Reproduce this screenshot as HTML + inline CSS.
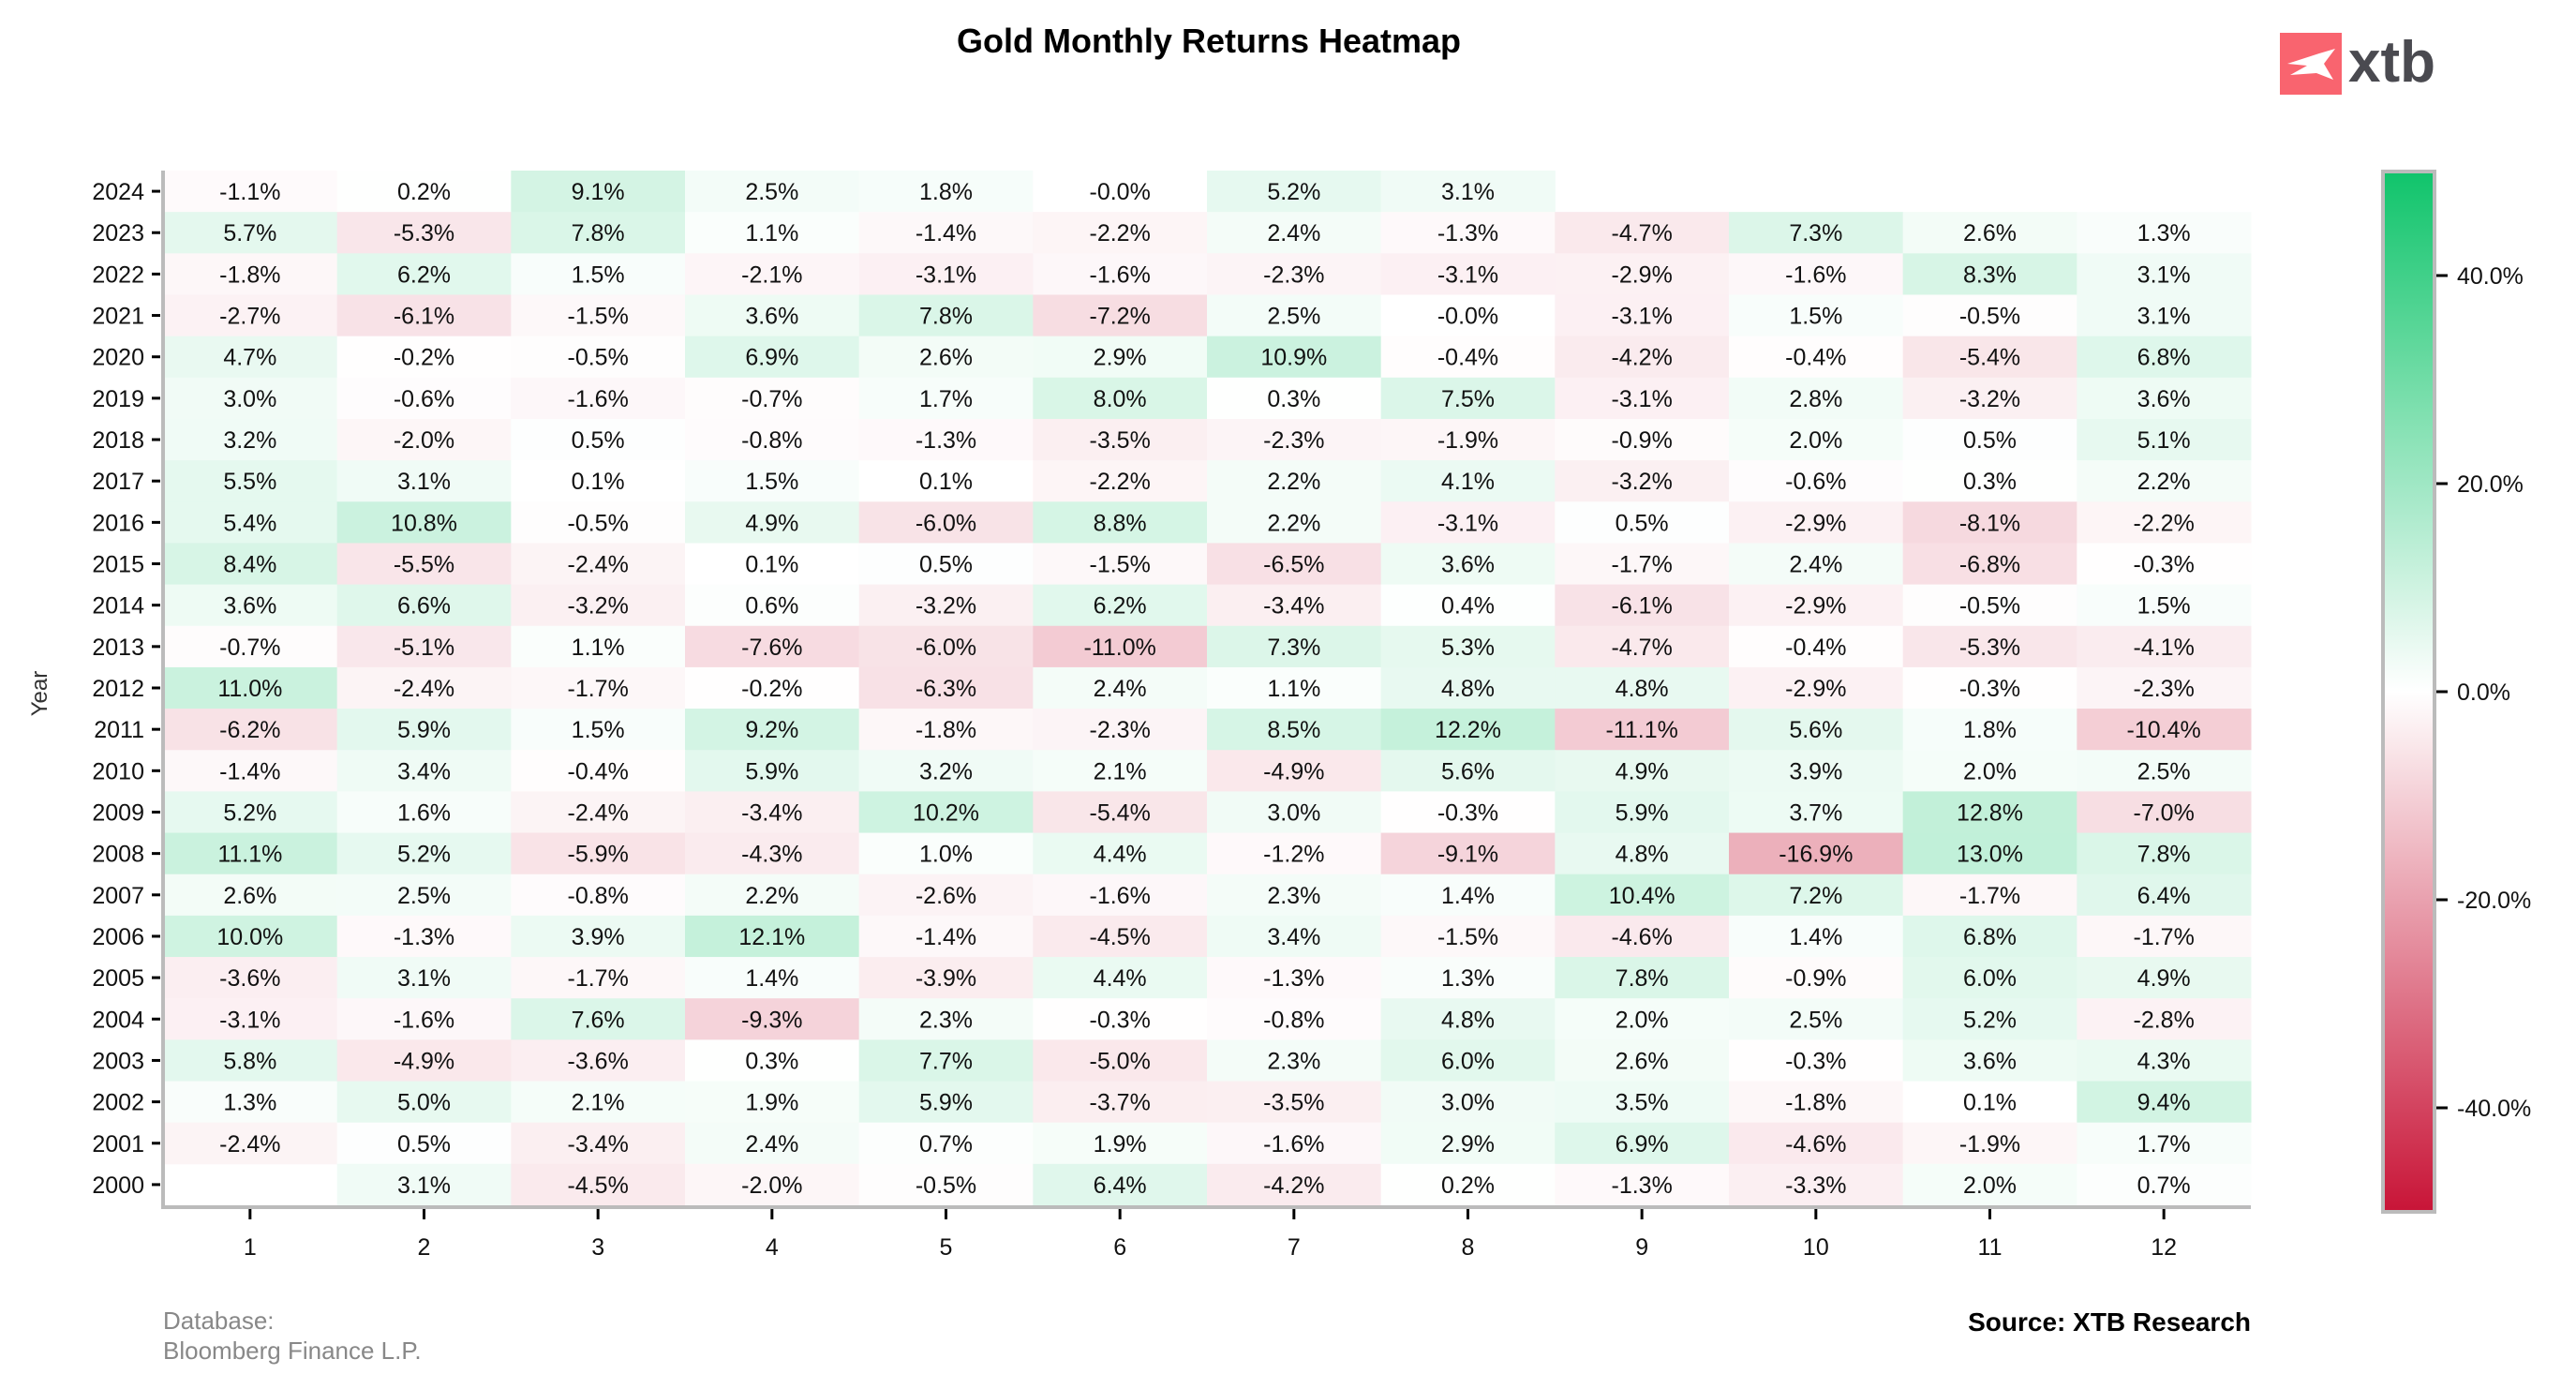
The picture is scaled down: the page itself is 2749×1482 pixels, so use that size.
<!DOCTYPE html>
<html><head><meta charset="utf-8"><style>
html,body{margin:0;padding:0;background:#fff;}
svg{display:block;font-family:"Liberation Sans",sans-serif;}
</style></head><body>
<svg id="chart" width="2749" height="1482" viewBox="0 0 2749 1482" xmlns="http://www.w3.org/2000/svg">
<text x="1290" y="56" text-anchor="middle" font-size="36" font-weight="bold" fill="#000">Gold Monthly Returns Heatmap</text>
<g>
<rect x="2433" y="35" width="66" height="66" fill="#f9646f"/>
<path d="M2441 68 L2475 57 L2492 52 L2480 68 L2490 85 L2472 78 L2444 80 L2462 70 Z" fill="#fff"/>
<text x="2506" y="87" font-size="62" font-weight="bold" fill="#4a4a50">xtb</text>
</g>
<g id="cells"></g>
<g id="axes"></g>
<g id="cbar"></g>
<text transform="translate(50,740) rotate(-90)" text-anchor="middle" font-size="24" fill="#333">Year</text>
<text x="174" y="1418" font-size="26" fill="#888">Database:</text>
<text x="174" y="1450" font-size="26" fill="#888">Bloomberg Finance L.P.</text>
<text x="2402" y="1420" text-anchor="end" font-size="28" font-weight="bold" fill="#000">Source: XTB Research</text>
</svg>
<script>
const years=[2024,2023,2022,2021,2020,2019,2018,2017,2016,2015,2014,2013,2012,2011,2010,2009,2008,2007,2006,2005,2004,2003,2002,2001,2000];
const months=[1,2,3,4,5,6,7,8,9,10,11,12];
const returns=[
[-1.1,0.2,9.1,2.5,1.8,-0.0,5.2,3.1,null,null,null,null],
[5.7,-5.3,7.8,1.1,-1.4,-2.2,2.4,-1.3,-4.7,7.3,2.6,1.3],
[-1.8,6.2,1.5,-2.1,-3.1,-1.6,-2.3,-3.1,-2.9,-1.6,8.3,3.1],
[-2.7,-6.1,-1.5,3.6,7.8,-7.2,2.5,-0.0,-3.1,1.5,-0.5,3.1],
[4.7,-0.2,-0.5,6.9,2.6,2.9,10.9,-0.4,-4.2,-0.4,-5.4,6.8],
[3.0,-0.6,-1.6,-0.7,1.7,8.0,0.3,7.5,-3.1,2.8,-3.2,3.6],
[3.2,-2.0,0.5,-0.8,-1.3,-3.5,-2.3,-1.9,-0.9,2.0,0.5,5.1],
[5.5,3.1,0.1,1.5,0.1,-2.2,2.2,4.1,-3.2,-0.6,0.3,2.2],
[5.4,10.8,-0.5,4.9,-6.0,8.8,2.2,-3.1,0.5,-2.9,-8.1,-2.2],
[8.4,-5.5,-2.4,0.1,0.5,-1.5,-6.5,3.6,-1.7,2.4,-6.8,-0.3],
[3.6,6.6,-3.2,0.6,-3.2,6.2,-3.4,0.4,-6.1,-2.9,-0.5,1.5],
[-0.7,-5.1,1.1,-7.6,-6.0,-11.0,7.3,5.3,-4.7,-0.4,-5.3,-4.1],
[11.0,-2.4,-1.7,-0.2,-6.3,2.4,1.1,4.8,4.8,-2.9,-0.3,-2.3],
[-6.2,5.9,1.5,9.2,-1.8,-2.3,8.5,12.2,-11.1,5.6,1.8,-10.4],
[-1.4,3.4,-0.4,5.9,3.2,2.1,-4.9,5.6,4.9,3.9,2.0,2.5],
[5.2,1.6,-2.4,-3.4,10.2,-5.4,3.0,-0.3,5.9,3.7,12.8,-7.0],
[11.1,5.2,-5.9,-4.3,1.0,4.4,-1.2,-9.1,4.8,-16.9,13.0,7.8],
[2.6,2.5,-0.8,2.2,-2.6,-1.6,2.3,1.4,10.4,7.2,-1.7,6.4],
[10.0,-1.3,3.9,12.1,-1.4,-4.5,3.4,-1.5,-4.6,1.4,6.8,-1.7],
[-3.6,3.1,-1.7,1.4,-3.9,4.4,-1.3,1.3,7.8,-0.9,6.0,4.9],
[-3.1,-1.6,7.6,-9.3,2.3,-0.3,-0.8,4.8,2.0,2.5,5.2,-2.8],
[5.8,-4.9,-3.6,0.3,7.7,-5.0,2.3,6.0,2.6,-0.3,3.6,4.3],
[1.3,5.0,2.1,1.9,5.9,-3.7,-3.5,3.0,3.5,-1.8,0.1,9.4],
[-2.4,0.5,-3.4,2.4,0.7,1.9,-1.6,2.9,6.9,-4.6,-1.9,1.7],
[null,3.1,-4.5,-2.0,-0.5,6.4,-4.2,0.2,-1.3,-3.3,2.0,0.7]
];
const cbarTicks=[40,20,0,-20,-40];
const NS="http://www.w3.org/2000/svg";
const L=174,R=2402,T=182,B=1286;
const cw=(R-L)/months.length, ch=(B-T)/years.length;
const xPos=i=>L+i*cw, yPos=i=>T+i*ch;
const VMIN=-50,VMAX=50,CT=183,CB=1293;
const cy=v=>CT+(VMAX-v)/(VMAX-VMIN)*(CB-CT);
function color(v){
  const g=[16,196,107], r=[200,20,55];
  const t=Math.min(1,Math.abs(v)/50), c=v>=0?g:r;
  return `rgb(${[0,1,2].map(k=>Math.round(255+(c[k]-255)*t)).join(',')})`;
}
function mk(tag,attrs,parent){const e=document.createElementNS(NS,tag);for(const k in attrs)e.setAttribute(k,attrs[k]);parent.appendChild(e);return e;}
const cells=document.getElementById('cells');
years.forEach((y,ri)=>{
  months.forEach((m,ci)=>{
    const v=returns[ri][ci];
    if(v===null)return;
    const r=mk('rect',{x:xPos(ci),y:yPos(ri),width:cw+0.5,height:ch+0.5,fill:color(v)},cells);
    
    
    const t=mk('text',{x:xPos(ci)+cw/2,y:yPos(ri)+ch/2+9,'text-anchor':'middle','font-size':25,fill:'#111'},cells);
    
    
    t.textContent=(Object.is(v,-0)?'-0.0':v.toFixed(1))+'%';
  });
});
const ax=document.getElementById('axes');
mk('line',{x1:L,y1:T,x2:L,y2:B+2,stroke:'#bbb','stroke-width':4},ax);
mk('line',{x1:L-2,y1:B+2,x2:R,y2:B+2,stroke:'#bbb','stroke-width':4},ax);
years.forEach((y,ri)=>{
  const yc=yPos(ri)+ch/2;
  mk('line',{x1:L-12,y1:yc,x2:L-3,y2:yc,stroke:'#000','stroke-width':3},ax);
  const t=mk('text',{x:L-20,y:yc+9,'text-anchor':'end','font-size':25,fill:'#111'},ax);
  
  
  t.textContent=y;
});
months.forEach((m,ci)=>{
  const xc=xPos(ci)+cw/2;
  mk('line',{x1:xc,y1:B+4,x2:xc,y2:B+15,stroke:'#000','stroke-width':3},ax);
  const t=mk('text',{x:xc,y:B+53,'text-anchor':'middle','font-size':25,fill:'#111'},ax);
  
  
  t.textContent=m;
});
const cb=document.getElementById('cbar');
const defs=mk('defs',{},cb);
const lg=mk('linearGradient',{id:'cg',x1:0,y1:0,x2:0,y2:1},defs);
for(let i=0;i<=20;i++){const v=VMAX-(VMAX-VMIN)*i/20;mk('stop',{offset:i/20,'stop-color':color(v)},lg);}
const bar=mk('rect',{x:2543,y:CT,width:55,height:CB-CT,fill:'url(#cg)',stroke:'#bbb','stroke-width':4},cb);


cbarTicks.forEach(v=>{
  mk('line',{x1:2600,y1:cy(v),x2:2612,y2:cy(v),stroke:'#000','stroke-width':3},cb);
  const t=mk('text',{x:2622,y:cy(v)+9,'font-size':25,fill:'#111'},cb);
  
  
  t.textContent=v.toFixed(1)+'%';
});
</script>
</body></html>
